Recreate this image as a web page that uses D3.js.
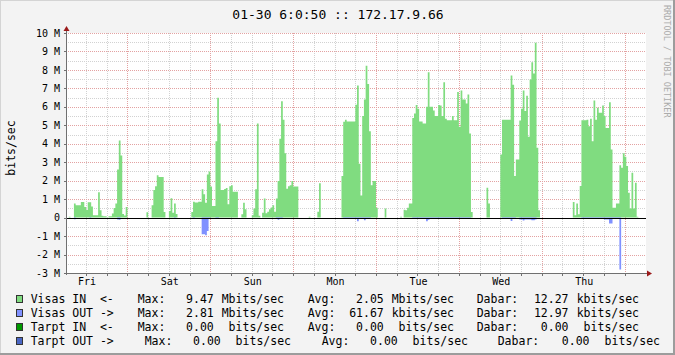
<!DOCTYPE html>
<html>
<head>
<meta charset="utf-8">
<script src="https://cdn.jsdelivr.net/npm/d3@7/dist/d3.min.js"></script>
<style>
  html, body { margin: 0; padding: 0; background: #f3f3f3; }
  svg { display: block; }
  text { font-family: "DejaVu Sans Mono", monospace; }
</style>
</head>
<body>
<script>
// ---- data (Mbits/sec, 30 minute slots) ----
var title = "01-30 6:0:50 :: 172.17.9.66"
var yLabel = "bits/sec"
var watermark = "RRDTOOL / TOBI OETIKER"
var yTicks = [-3, -2, -1, 0, 1, 2, 3, 4, 5, 6, 7, 8, 9, 10]

// Fri from 06:00, then whole days, then Fri 00:00-06:00
var friIn = [0,0,0.05,0,0,0.77,0.67,0.67,0.67,0.85,0.85,0.58,0.41,0.83,0.83,0.6,0.13,0.13,0.13,1.37,0.4,0.1,0.07,0.07,0,0.07,0.07,0.22,0.52,0.77,2.6,4.18,3.37,0.2,0.12,0.58]
var satIn = [0,0,0,0,0,0,0,0,0,0,0,0.29,0,0,0.67,1.5,1.7,2.29,2.2,2.2,2.2,0.3,0,0,0.36,1.05,0.27,0.77,0.2,0,0,0,0,0,0,0,0,0.3,0.86,0.82,0.82,0.86,0.86,1.53,1.26,0.81,2.34,2.5]
var sunIn = [1.68,0.63,0.63,4.14,6.49,5.1,1.5,1.5,1.55,1.6,0.72,1.7,1.75,1.4,1.4,1.4,0,0,0.18,0.8,0.45,0,0,0,0.13,0.5,1.53,5.1,0.1,0,0.27,1.03,0.23,0.32,0.45,0.55,0.67,0.32,1.03,1.98,4.27,6.3,5.3,3.48,1.57,1.7,1.75,1.98]
var monIn = [1.68,1.68,1.68,0,0,0,0,0,0,0.05,0,0,0,0,0.32,1.86,0,0,0,0,0,0,0,0,0,0,0,0,2.25,5.19,5.3,5.2,5.2,5.2,5.2,5.2,6.12,7.15,2.92,1.2,5.5,6.4,8.23,7.24,4.68,1.75,1.98,1.98]
var tueIn = [0.54,0,0,0,0,0.5,0,0,0,0,0,0,0,0,0.05,0,0.43,0.4,0.54,0.77,0.77,5.4,5.64,6.1,5.9,5.2,5.2,5.1,5.1,6.0,7.87,6.0,6.0,5.8,5.5,5.5,6.1,6.07,5.5,7.33,5.35,5.28,5.28,5.28,5.5,5.28,5.28,6.81]
var wedIn = [4.92,6.88,6.4,6.4,6.18,6.67,4.56,0.3,0,0,0,0,0,0,0,0,1.62,0.77,0,0,0,0,0,0,3.42,5.3,5.3,5.3,5.3,5.3,7.7,7.2,2.25,3.15,3.15,5.26,5.9,6.88,5.77,6.6,4.38,7.48,8.41,7.8,9.47,3.78,0.4,0]
var thuIn = [0,0,0,0,0,0,0,0,0,0,0,0,0,0,0,0,0,0,0.85,0.13,0.77,0.18,1.71,5.28,5.28,5.28,5.3,4.95,5.35,4.14,6.34,5.3,5.95,5.68,5.68,6.07,5.5,4.86,4.86,6.25,3.69,0.54,0.54,0.77,0.77,2.83,2.7,3.48]
var fri2In = [3.3,2.79,1.35,0.49,2.43,0.49,1.89,0.05,0,0,0,0]

var friOut = [0,0,0,0,0,0.09,0,0,0,0,0,0,0,0,0.08,0,0,0,0,0,0,0,0,0,0,0,0,0,0,0,0.1,0.12,0,0,0,0]
var satOut = [0,0,0,0,0,0,0,0,0,0,0,0,0,0,0,0,0,0,0,0,0,0,0,0,0,0,0,0.05,0,0,0,0,0,0,0,0,0,0,0.03,0,0,0,0,0.9,0.9,0.95,0.72,0.05]
var sunOut = [0,0,0,0.06,0.06,0,0,0,0,0,0,0,0,0,0,0,0,0,0,0,0,0,0,0,0,0,0,0,0,0,0,0,0,0,0,0,0,0,0.07,0.12,0.07,0.07,0,0,0,0,0,0]
var monOut = [0,0,0,0,0,0,0,0,0,0,0,0,0,0,0,0,0,0,0,0,0,0,0,0,0,0,0,0,0,0.05,0.05,0.05,0.05,0.05,0.05,0.05,0.05,0.2,0.05,0.05,0.05,0.14,0.05,0.05,0.05,0,0,0]
var tueOut = [0,0,0,0,0,0,0,0,0,0,0,0,0,0,0,0,0,0,0,0,0,0.05,0.05,0.05,0.05,0.05,0.05,0.05,0.05,0.2,0.12,0.05,0.05,0.05,0.05,0.05,0.08,0.08,0.08,0.08,0.05,0.05,0.05,0.05,0.05,0.05,0.05,0.05]
var wedOut = [0.05,0.05,0.05,0.05,0.05,0.05,0.05,0,0,0,0,0,0,0,0,0,0,0,0,0,0,0,0,0,0,0.08,0.08,0.08,0.08,0.08,0.18,0.08,0.08,0,0,0.1,0.1,0.15,0.1,0.1,0.1,0.1,0.14,0.14,0.1,0,0,0]
var thuOut = [0,0,0,0,0,0,0,0,0,0,0,0,0,0,0,0,0,0,0,0,0,0,0,0.06,0.06,0.06,0.06,0.06,0.06,0.06,0.06,0.06,0.06,0.06,0.06,0.06,0.1,0.1,0.1,0.32,0.32,0.06,0.06,0.06,0.06,2.81,0,0]
var fri2Out = [0,0,0,0,0,0,0,0,0,0,0,0]

// legend
var seriesNames = ["Visas IN  <-", "Visas OUT ->", "Tarpt IN  <-", "Tarpt OUT ->"]
var seriesColors = ["#80dc80", "#8091ff", "#009900", "#4a66c4"]
var maxVals = ["9.47", "2.81", "0.00", "0.00"]
var maxUnits = ["Mbits/sec", "Mbits/sec", " bits/sec", " bits/sec"]
var avgVals = ["2.05", "61.67", "0.00", "0.00"]
var avgUnits = ["Mbits/sec", "kbits/sec", " bits/sec", " bits/sec"]
var lastVals = ["12.27", "12.97", "0.00", "0.00"]
var lastUnits = ["kbits/sec", "kbits/sec", " bits/sec", " bits/sec"]

// ---- chart ----
var W = 675, H = 355
var start = new Date(Date.UTC(2009, 0, 23, 6))
var end = new Date(Date.UTC(2009, 0, 30, 6))
var step = 30 * 60 * 1000

var inAll = friIn.concat(satIn, sunIn, monIn, tueIn, wedIn, thuIn, fri2In)
var outAll = friOut.concat(satOut, sunOut, monOut, tueOut, wedOut, thuOut, fri2Out)

var x = d3.scaleUtc().domain([start, end]).range([65.3, 645.3])
var y = d3.scaleLinear().domain([-3, 10]).range([273, 33])
var px = function(v) { return Math.round(v) + 0.5 }

var svg = d3.select("body").append("svg")
    .attr("width", W)
    .attr("height", H)

svg.append("rect").attr("width", W).attr("height", H).attr("fill", "#f3f3f3")
svg.append("rect").attr("x", 0).attr("y", 0).attr("width", W).attr("height", 1).attr("fill", "#d4d4d4")
svg.append("rect").attr("x", 0).attr("y", 0).attr("width", 1).attr("height", H).attr("fill", "#d4d4d4")
svg.append("rect").attr("x", W - 2).attr("y", 0).attr("width", 2).attr("height", H).attr("fill", "#9c9c9c")
svg.append("rect").attr("x", 0).attr("y", H - 2).attr("width", W).attr("height", 2).attr("fill", "#9c9c9c")

// canvas
svg.append("rect")
    .attr("x", 66).attr("y", 33)
    .attr("width", 580).attr("height", 240)
    .attr("fill", "#ffffff")

// grid
var grid = svg.append("g").attr("stroke-dasharray", "1,1").attr("stroke-width", 1)
var minorY = d3.range(-3, 10.01, 0.5).filter(function(v) { return v % 1 !== 0 })
var minorX = d3.utcHour.every(6).range(start, end).filter(function(d) { return d.getUTCHours() !== 0 && +d !== +start })
var majorX = d3.utcDay.range(start, end)

grid.selectAll("line.minor-y").data(minorY).enter().append("line")
    .attr("x1", 66).attr("x2", 646)
    .attr("y1", function(d) { return px(y(d)) })
    .attr("y2", function(d) { return px(y(d)) })
    .attr("stroke", "#d2d2d2")
grid.selectAll("line.minor-x").data(minorX).enter().append("line")
    .attr("y1", 33).attr("y2", 273)
    .attr("x1", function(d) { return px(x(d)) })
    .attr("x2", function(d) { return px(x(d)) })
    .attr("stroke", "#d2d2d2")
grid.selectAll("line.major-y").data(yTicks.filter(function(v) { return v !== 0 && v !== -3 })).enter().append("line")
    .attr("x1", 66).attr("x2", 646)
    .attr("y1", function(d) { return px(y(d)) })
    .attr("y2", function(d) { return px(y(d)) })
    .attr("stroke", "#e3a2a2")
grid.selectAll("line.major-x").data(majorX).enter().append("line")
    .attr("y1", 33).attr("y2", 273)
    .attr("x1", function(d) { return px(x(d)) })
    .attr("x2", function(d) { return px(x(d)) })
    .attr("stroke", "#e3a2a2")

// areas
function toPoints(arr, sign) {
  var pts = arr.map(function(v, i) { return { t: new Date(+start + i * step), v: sign * v } })
  pts.push({ t: end, v: sign * arr[arr.length - 1] })
  return pts
}
var area = d3.area()
    .curve(d3.curveStepAfter)
    .x(function(d) { return x(d.t) })
    .y0(y(0))
    .y1(function(d) { return y(d.v) })

svg.append("path").attr("d", area(toPoints(inAll, 1))).attr("fill", seriesColors[0])
svg.append("path").attr("d", area(toPoints(outAll, -1))).attr("fill", seriesColors[1])

// zero line
svg.append("line")
    .attr("x1", 66).attr("x2", 646)
    .attr("y1", px(y(0))).attr("y2", px(y(0)))
    .attr("stroke", "#000").attr("stroke-width", 1)

// axes
var axisColor = "#707070"
svg.append("line").attr("x1", 66.5).attr("x2", 66.5).attr("y1", 275).attr("y2", 29)
    .attr("stroke", axisColor)
svg.append("line").attr("x1", 64).attr("x2", 649).attr("y1", 273.5).attr("y2", 273.5)
    .attr("stroke", axisColor)
svg.selectAll("line.ytick").data(yTicks).enter().append("line")
    .attr("x1", 64).attr("x2", 66)
    .attr("y1", function(d) { return px(y(d)) })
    .attr("y2", function(d) { return px(y(d)) })
    .attr("stroke", axisColor)
svg.selectAll("line.xtick").data(majorX.concat(minorX)).enter().append("line")
    .attr("y1", 274).attr("y2", 276)
    .attr("x1", function(d) { return px(x(d)) })
    .attr("x2", function(d) { return px(x(d)) })
    .attr("stroke", axisColor)

svg.append("path").attr("d", "M63.5,31L69.5,31L66.5,26Z").attr("fill", "#9b1a1a")
svg.append("path").attr("d", "M647,270.5L647,276.5L652,273.5Z").attr("fill", "#9b1a1a")

// y labels
svg.selectAll("text.ylab").data(yTicks).enter().append("text")
    .attr("x", 60)
    .attr("y", function(d) { return y(d) + 3.6 })
    .attr("text-anchor", "end")
    .attr("font-size", "10px")
    .attr("fill", "#000")
    .text(function(d) { return d === 0 ? "0" : d + " M" })

// x labels (noon of each day)
var dayNoons = majorX.map(function(d) { return new Date(+d - 12 * 3600 * 1000) })
svg.selectAll("text.xlab").data(dayNoons).enter().append("text")
    .attr("x", function(d) { return x(d) + 1 })
    .attr("y", 285)
    .attr("text-anchor", "middle")
    .attr("font-size", "10px")
    .attr("fill", "#000")
    .text(d3.utcFormat("%a"))

// title, y label, watermark
svg.append("text")
    .attr("x", 338).attr("y", 18.5)
    .attr("text-anchor", "middle")
    .attr("font-size", "13px")
    .attr("fill", "#000")
    .text(title)

svg.append("text")
    .attr("transform", "translate(15,148) rotate(-90)")
    .attr("text-anchor", "middle")
    .attr("font-size", "11.5px")
    .attr("fill", "#000")
    .text(yLabel)

svg.append("text")
    .attr("transform", "translate(663.5,5) rotate(90)")
    .attr("font-size", "8.5px")
    .attr("fill", "#ababab")
    .text(watermark)

// legend
var colX = [30.7, 137.7, 213.8, 221.7, 307.7, 383.8, 391.7, 476.7, 568.5, 576.7]
var colAnchor = ["start", "start", "end", "start", "start", "end", "start", "start", "end", "start"]
var lastRowShift = [0, 7, 7, 7, 14, 14, 14, 21, 21, 21]

seriesNames.forEach(function(name, i) {
  var top = 295.5 + i * 14
  svg.append("rect")
      .attr("x", 16.5).attr("y", top)
      .attr("width", 6).attr("height", 7)
      .attr("fill", seriesColors[i])
      .attr("stroke", "#333")
      .attr("stroke-width", 1)
  var tokens = [name, "Max:", maxVals[i], maxUnits[i], "Avg:", avgVals[i], avgUnits[i], "Dabar:", lastVals[i], lastUnits[i]]
  svg.selectAll(null).data(tokens).enter().append("text")
      .attr("x", function(d, j) { return colX[j] + (i === 3 ? lastRowShift[j] : 0) })
      .attr("y", top + 7.8)
      .attr("text-anchor", function(d, j) { return colAnchor[j] })
      .attr("font-size", "11.5px")
      .attr("fill", "#000")
      .attr("xml:space", "preserve")
      .style("white-space", "pre")
      .text(function(d) { return d })
})
</script>
</body>
</html>
